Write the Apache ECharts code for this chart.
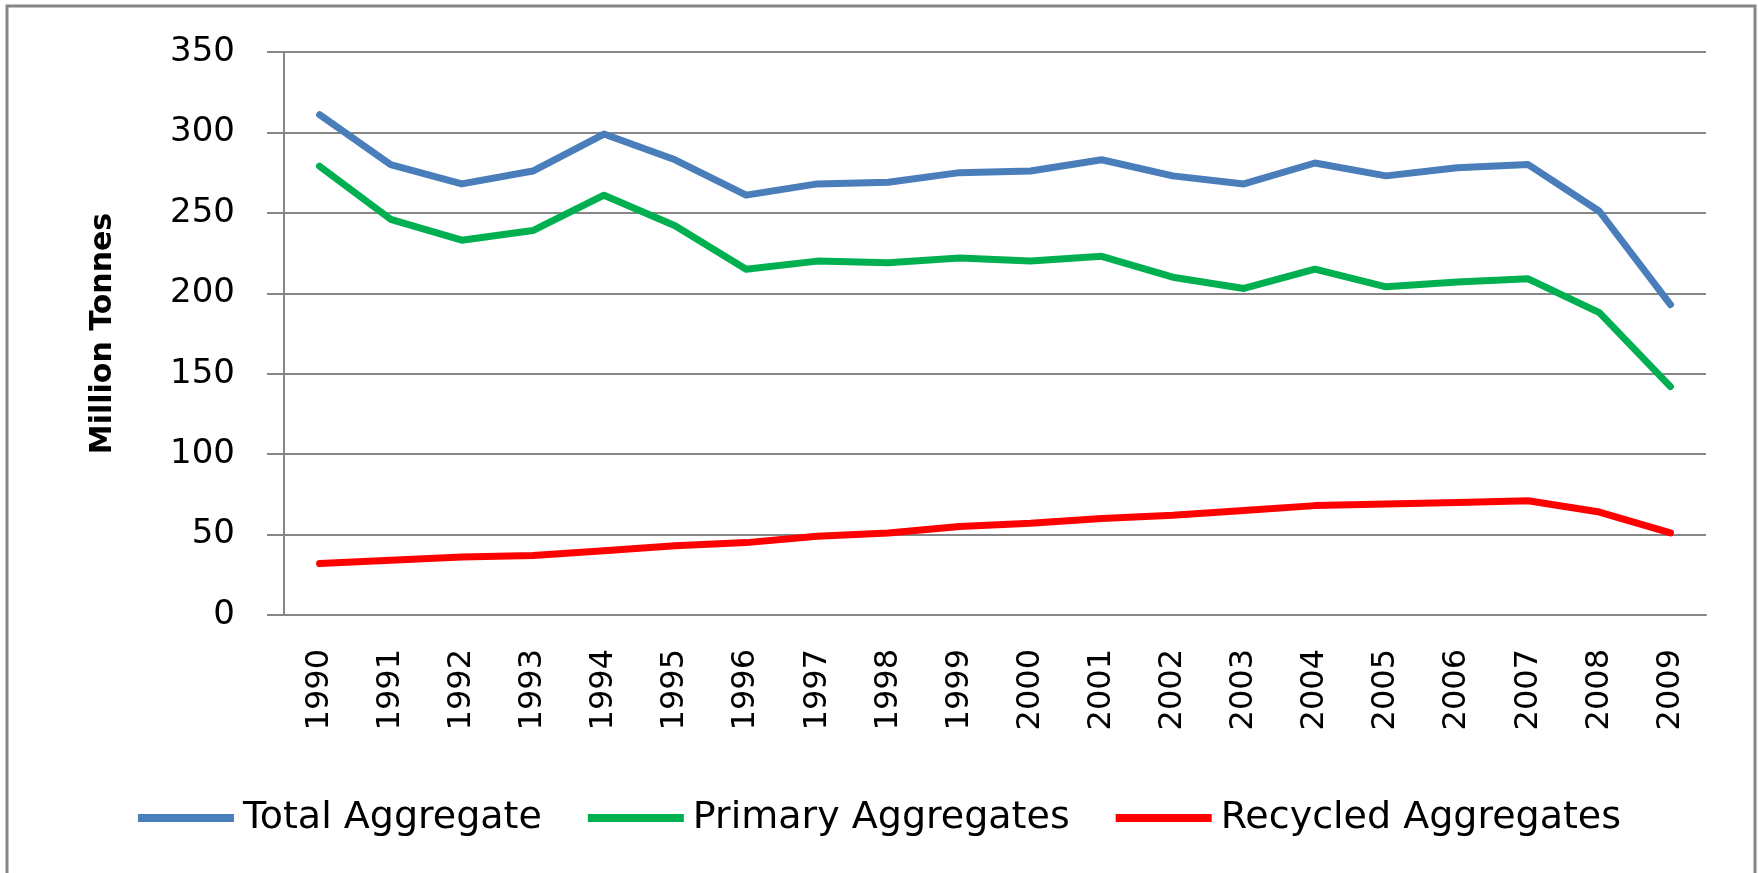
<!DOCTYPE html>
<html>
<head>
<meta charset="utf-8">
<title>Aggregates</title>
<style>
html, body { margin: 0; padding: 0; background: #fff; }
#container { width: 1759px; height: 873px; }
</style>
</head>
<body>
<div id="container"></div>
<script src="https://cdn.jsdelivr.net/npm/echarts@6/dist/echarts.min.js"></script>
<script>
var years = ['1990','1991','1992','1993','1994','1995','1996','1997','1998','1999',
             '2000','2001','2002','2003','2004','2005','2006','2007','2008','2009'];
var totalAggregate = [311, 280, 268, 276, 299, 283, 261, 268, 269, 275,
                      276, 283, 273, 268, 281, 273, 278, 280, 251, 193];
var primaryAggregates = [279, 246, 233, 239, 261, 242, 215, 220, 219, 222,
                         220, 223, 210, 203, 215, 204, 207, 209, 188, 142];
var recycledAggregates = [32, 34, 36, 37, 40, 43, 45, 49, 51, 55,
                          57, 60, 62, 65, 68, 69, 70, 71, 64, 51];

var grey = '#868686';
var font = 'DejaVu Sans';

var chart = echarts.init(document.getElementById('container'));
var option = {
    animation: false,
    backgroundColor: '#fff',
    graphic: [{
        type: 'rect',
        shape: { x: 7, y: 6, width: 1748, height: 1000 },
        style: { fill: 'none', stroke: grey, lineWidth: 3 },
        silent: true
    }],
    grid: { left: 284, right: 53, top: 52, bottom: 258 },
    legend: {
        left: 'center',
        top: 794,
        icon: 'rect',
        itemWidth: 96,
        itemHeight: 8,
        itemGap: 46,
        textStyle: { fontFamily: font, fontSize: 38, color: '#000', padding: [0, 0, 0, 4] },
        data: ['Total Aggregate', 'Primary Aggregates', 'Recycled Aggregates']
    },
    xAxis: {
        type: 'category',
        data: years,
        boundaryGap: true,
        axisLine: { lineStyle: { color: grey, width: 2 } },
        axisTick: { length: 13, lineStyle: { color: grey, width: 2 } },
        axisLabel: { rotate: 90, margin: 34, interval: 0, fontFamily: font, fontSize: 32, color: '#000' }
    },
    yAxis: {
        type: 'value',
        min: 0,
        max: 350,
        interval: 50,
        name: 'Million Tonnes',
        nameLocation: 'middle',
        nameGap: 166,
        nameTextStyle: { fontFamily: font, fontSize: 30, fontWeight: 'bold', color: '#000' },
        axisLine: { show: true, lineStyle: { color: grey, width: 2 } },
        axisTick: { show: true, length: 17, lineStyle: { color: grey, width: 2 } },
        axisLabel: { margin: 49, fontFamily: font, fontSize: 34, color: '#000' },
        splitLine: { lineStyle: { color: grey, width: 2 } }
    },
    series: [
        {
            name: 'Total Aggregate', type: 'line', data: totalAggregate,
            symbol: 'none', itemStyle: { color: '#4A7EBB' },
            lineStyle: { color: '#4A7EBB', width: 7, cap: 'round', join: 'round' }
        },
        {
            name: 'Primary Aggregates', type: 'line', data: primaryAggregates,
            symbol: 'none', itemStyle: { color: '#00B050' },
            lineStyle: { color: '#00B050', width: 7, cap: 'round', join: 'round' }
        },
        {
            name: 'Recycled Aggregates', type: 'line', data: recycledAggregates,
            symbol: 'none', itemStyle: { color: '#FF0000' },
            lineStyle: { color: '#FF0000', width: 7, cap: 'round', join: 'round' }
        }
    ]
};
chart.setOption(option);
</script>
</body>
</html>
